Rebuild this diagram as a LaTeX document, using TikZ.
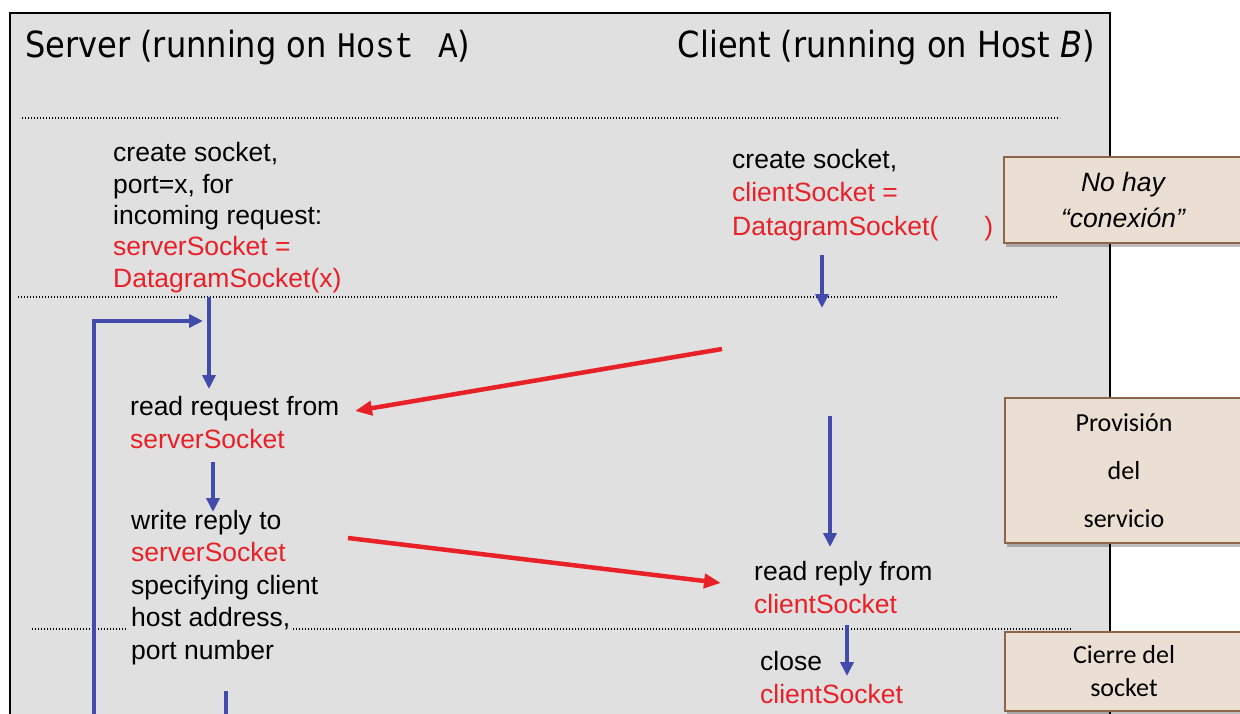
\documentclass[tikz,border=0pt]{standalone}
\usepackage{fontspec}
\setmainfont{Liberation Sans}
\newfontfamily\titlefont{DejaVu Sans}
\newfontfamily\hostfont{Liberation Mono}
\newfontfamily\notefont{Carlito}
\usetikzlibrary{arrows.meta,shadows}
\definecolor{panel}{RGB}{224,224,224}
\definecolor{sockred}{RGB}{232,32,40}
\definecolor{flowblue}{RGB}{66,74,170}
\definecolor{notefill}{RGB}{235,222,211}
\definecolor{noteedge}{RGB}{140,102,72}
\newcommand\sk[1]{\textcolor{sockred}{#1}}
\newcommand\ttl[1]{\scalebox{0.89}[1]{\titlefont\fontsize{36}{40}\selectfont #1}}

\begin{document}
\begin{tikzpicture}[x=1pt,y=-1pt,
  txt/.style={inner sep=0pt, anchor=base west, align=left,
              font=\fontsize{26.5}{32.5}\selectfont},
  sep/.style={line width=1.3pt, dash pattern=on 1.3pt off 1.7pt},
  flow/.style={draw=flowblue, line width=4pt, -{Triangle[length=14pt,width=13pt]}},
  msg/.style={draw=sockred, line width=4.5pt, -{Triangle[length=17pt,width=14pt]}},
  note/.style={draw=noteedge, line width=1.5pt, fill=notefill, inner sep=0pt,
               align=center, minimum width=238pt,
               drop shadow={shadow xshift=2pt, shadow yshift=-4pt, opacity=0.25, fill=black}}]
\useasboundingbox (0,0) rectangle (1240,713);
\clip (0,0) rectangle (1240,713);

% background panel
\filldraw[fill=panel, draw=black, line width=1.8pt] (10,13) rectangle (1110,740);

% titles
\node[inner sep=0pt, anchor=base west] (srvtitle) at (25,57)
  {\ttl{Server (running on {\hostfont Host\,~A})}};
\node[inner sep=0pt, anchor=base east] (clititle) at (1095,57)
  {\ttl{Client (running on Host \textit{B})}};

% phase separators
\draw[sep] (22,118) -- (1060,118);
\draw[sep] (18,297) -- (1057,297);
\draw[sep] (32,629) -- (127,629);
\draw[sep] (293,629) -- (1072,629);

% server side (nodes are placed by the baseline of their last line)
\node[txt, font=\fontsize{26.5}{31.3}\selectfont] (srvcreate) at (113,287)
  {create socket,\\ port=x, for\\ incoming request:\\ \sk{serverSocket =}\\ \sk{DatagramSocket(x)}};
\node[txt] (readreq) at (130,448) {read request from\\ \sk{serverSocket}};
\node[txt] (writerep) at (131,659)
  {write reply to\\ \sk{serverSocket}\\ specifying client\\ host address,\\ port number};

% client side
\node[txt, font=\fontsize{26.5}{33.5}\selectfont] (clicreate) at (732,235)
  {create socket,\\ \sk{clientSocket =}\\ \sk{DatagramSocket(\hspace{46pt})}};
\node[txt] (readrep) at (754,613) {read reply from\\ \sk{clientSocket}};
\node[txt] (cliclose) at (760,703) {close\\ \sk{clientSocket}};

% flow endpoints
\coordinate (s1a) at (209,297);   \coordinate (s1b) at (209,389);
\coordinate (lpa) at (94,720);    \coordinate (lpb) at (94,321);   \coordinate (lpc) at (203,321);
\coordinate (s2a) at (213,462);   \coordinate (s2b) at (213,512);
\coordinate (s3a) at (226,691);   \coordinate (s3b) at (226,720);
\coordinate (c1a) at (822,255);   \coordinate (c1b) at (822,308);
\coordinate (c2a) at (830,416);   \coordinate (c2b) at (830,547);
\coordinate (c3a) at (847,625);   \coordinate (c3b) at (847,676);
\coordinate (m1a) at (722,349);   \coordinate (m1b) at (355,411);
\coordinate (m2a) at (348,538);   \coordinate (m2b) at (721,583);

% control flow
\draw[flow] (s1a) -- (s1b);
\draw[flow] (lpa) -- (lpb) -- (lpc);
\draw[flow] (s2a) -- (s2b);
\draw[flow, -] (s3a) -- (s3b);
\draw[flow] (c1a) -- (c1b);
\draw[flow] (c2a) -- (c2b);
\draw[flow] (c3a) -- (c3b);

% datagrams
\draw[msg] (m1a) -- (m1b);
\draw[msg] (m2a) -- (m2b);

% side notes
\node[note, minimum height=86pt, font=\fontsize{26.5}{36}\selectfont\itshape] (noconn)
  at (1123,200) {No hay\\ “conexión”};
\node[note, minimum height=145pt, font=\notefont\fontsize{26}{48}\selectfont] (service)
  at (1124,470.5) {Provisión\\ del\\ servicio};
\node[note, minimum height=79pt, font=\notefont\fontsize{26}{33}\selectfont] (closing)
  at (1124,671.5) {Cierre del\\ socket};
\end{tikzpicture}
\end{document}
